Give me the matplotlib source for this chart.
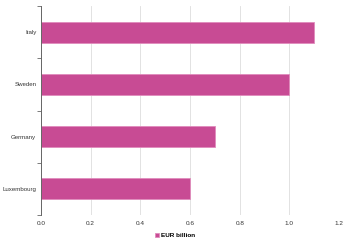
import numpy as np
import matplotlib
matplotlib.use("Agg")
import matplotlib.pyplot as plt

plt.rcParams["font.family"] = ["Liberation Sans", "DejaVu Sans"]

countries = ["Italy", "Sweden", "Germany", "Luxembourg"]
values = [1.1, 1.0, 0.7, 0.6]
xticks = [0.0, 0.2, 0.4, 0.6, 0.8, 1.0, 1.2]
series_name = "EUR billion"

bar_color = "#c84b94"

fig = plt.figure(figsize=(3.5, 2.44), dpi=100)
ax = fig.add_axes([0.117, 0.119, 0.852, 0.856])

y = np.arange(len(countries))
ax.barh(y, values, height=0.4, color=bar_color, edgecolor="#e08cbc",
        linewidth=0.6, label=series_name, zorder=3)

ax.set_xlim(0, 1.2)
ax.set_ylim(len(countries) - 0.5, -0.5)
ax.set_xticks(xticks)
ax.set_xticklabels([f"{v:.1f}" for v in xticks], fontsize=4.6, color="#333333")
ax.set_yticks(y)
ax.set_yticklabels(countries, fontsize=4.4, color="#333333")
ax.set_yticks(np.arange(-0.5, len(countries), 1.0), minor=True)

ax.tick_params(axis="y", which="major", length=0, pad=3.3)
ax.tick_params(axis="y", which="minor", length=3, width=0.6, color="#666666")
ax.tick_params(axis="x", length=0, pad=4)

ax.grid(True, axis="x", color="#dddddd", linewidth=0.6, zorder=0)
for s in ["top", "right", "bottom"]:
    ax.spines[s].set_visible(False)
ax.spines["left"].set_color("#666666")
ax.spines["left"].set_linewidth(0.7)
ax.spines["left"].set_zorder(4)

leg = fig.legend(loc="lower center", bbox_to_anchor=(0.5, 0.0), frameon=False,
                 handlelength=0.6, handleheight=0.6, handletextpad=0.3,
                 prop={"weight": "bold", "size": 4.6})

fig.savefig("out.png", dpi=100)
